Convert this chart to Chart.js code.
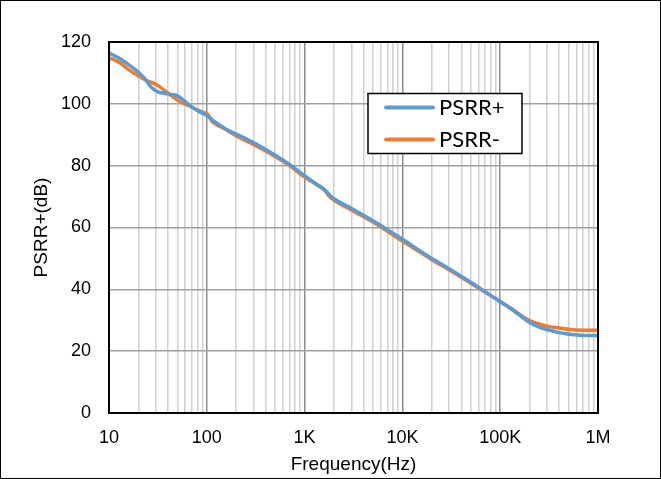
<!DOCTYPE html>
<html>
<head>
<meta charset="utf-8">
<script src="https://cdn.jsdelivr.net/npm/chart.js@4.4.1/dist/chart.umd.min.js"></script>
<style>
html,body{margin:0;padding:0;background:#fff;}
canvas{display:block;}
</style>
</head>
<body>
<canvas id="c" width="661" height="479"></canvas>
<script>
// ---- data ----
const seriesNames = ['PSRR+', 'PSRR-'];
const seriesColors = ['#5B9BD5', '#ED7D31'];

const psrrPlusFreq = [10,13,16,20,23,26,30,35,42,50,60,70,85,100,120,150,200,300,500,700,1000,1300,1600,1800,2000,3000,5000,10000,20000,30000,50000,100000,130000,160000,200000,250000,300000,400000,500000,700000,1000000];
const psrrPlusDb   = [116.5,114.6,112.6,110.2,108.3,106,104.2,103.5,103.1,102.6,100.8,99,97.4,96.2,94.2,92.2,90.2,87.5,83.4,80.4,76.8,74.2,72.3,70.5,69.3,66.2,62.2,56.2,50,46.7,42.3,36.0,33.6,31.5,29.3,27.8,27.0,26.0,25.5,25.1,25.1];

const psrrMinusFreq = [10,13,16,20,24,28,32,40,50,60,75,90,103,112,125,150,200,300,500,700,1000,1300,1600,1800,2000,3000,5000,10000,20000,30000,50000,100000,130000,160000,200000,250000,300000,400000,500000,700000,1000000];
const psrrMinusDb   = [115,113.2,111,109,107.6,106.8,105.8,103.5,101.2,99.9,98.5,97.3,96.6,94.5,93.3,92,89.6,86.9,83,80,76.3,74,72,70,68.8,65.7,61.8,55.6,49.6,46.3,42,36.1,33.8,31.8,29.9,28.8,28.1,27.5,27.1,26.8,26.8];

const xTickValues = [10,100,1000,10000,100000,1000000];
const xTickLabels = ['10','100','1K','10K','100K','1M'];
const yTickValues = [0,20,40,60,80,100,120];
const xTitle = 'Frequency(Hz)';
const yTitle = 'PSRR+(dB)';

function toPoints(xs, ys){ return xs.map((x,i)=>({x:x, y:ys[i]})); }

const tickFont = {family:'"Liberation Sans", Arial, sans-serif', size:18};
const titleFont = {family:'"Liberation Sans", Arial, sans-serif', size:19};

const frame = {
  id:'frame',
  afterDatasetsDraw(chart){
    const {ctx, chartArea:a} = chart;
    ctx.save();
    ctx.strokeStyle = '#000';
    ctx.lineWidth = 2;
    ctx.strokeRect(a.left, a.top, a.right - a.left, a.bottom - a.top);
    ctx.restore();
  },
  afterDraw(chart){
    const ctx = chart.ctx;
    ctx.save();
    // outer border
    ctx.strokeStyle = '#000';
    ctx.lineWidth = 1;
    ctx.strokeRect(0.5, 0.5, chart.width - 1, chart.height - 1);
    // legend
    const bx = 368, by = 93.5, bw = 154, bh = 60;
    ctx.fillStyle = '#fff';
    ctx.fillRect(bx, by, bw, bh);
    ctx.lineWidth = 1.5;
    ctx.strokeStyle = '#000';
    ctx.strokeRect(bx, by, bw, bh);
    ctx.font = '22px Lato, "Liberation Sans", sans-serif';
    ctx.textBaseline = 'alphabetic';
    ctx.textAlign = 'left';
    chart.data.datasets.forEach((ds, i) => {
      const ly = 107.5 + i * 32;
      ctx.strokeStyle = ds.borderColor;
      ctx.lineWidth = 4;
      ctx.lineCap = 'round';
      ctx.beginPath();
      ctx.moveTo(386, ly);
      ctx.lineTo(433, ly);
      ctx.stroke();
      ctx.fillStyle = '#000';
      ctx.fillText(ds.label, 439, ly + 7.8);
    });
    ctx.restore();
  }
};

const chart = new Chart(document.getElementById('c'), {
  type: 'line',
  data: {
    datasets: [
      {label: seriesNames[0], data: toPoints(psrrPlusFreq, psrrPlusDb), borderColor: seriesColors[0], backgroundColor: seriesColors[0], borderWidth: 3.5, pointRadius: 0, cubicInterpolationMode: 'monotone', fill:false},
      {label: seriesNames[1], data: toPoints(psrrMinusFreq, psrrMinusDb), borderColor: seriesColors[1], backgroundColor: seriesColors[1], borderWidth: 3.5, pointRadius: 0, cubicInterpolationMode: 'monotone', fill:false}
    ]
  },
  options: {
    responsive: false,
    devicePixelRatio: 1,
    animation: false,
    events: [],
    layout: {padding: {left: 0, top: 42, right: 63, bottom: 0}},
    plugins: {legend: {display: false}, tooltip: {enabled: false}},
    scales: {
      x: {
        type: 'logarithmic',
        min: 10, max: 1000000,
        afterFit(s){ s.height = 66; },
        afterBuildTicks(s){
          const t = [];
          for (let d = 0; d < xTickValues.length; d++) {
            const base = xTickValues[d];
            t.push({value: base, major: true});
            if (d < xTickValues.length - 1) for (let k = 2; k <= 9; k++) t.push({value: base * k, major: false});
          }
          s.ticks = t;
        },
        ticks: {
          autoSkip: false, maxRotation: 0, minRotation: 0, padding: 14,
          color: '#000', font: tickFont,
          callback(v){ const i = xTickValues.indexOf(v); return i >= 0 ? xTickLabels[i] : ''; }
        },
        grid: {
          drawTicks: false,
          lineWidth: 1.5,
          color(ctx){ return (ctx.tick && xTickValues.indexOf(ctx.tick.value) >= 0) ? '#8c8c8c' : '#d0d0d0'; }
        },
        border: {display: false},
        title: {display: true, text: xTitle, color: '#000', font: titleFont, padding: {top: 0, bottom: 3}}
      },
      y: {
        type: 'linear',
        min: 0, max: 120,
        afterFit(s){ s.width = 109; },
        afterBuildTicks(s){ s.ticks = yTickValues.map(v => ({value: v})); },
        ticks: {padding: 18, color: '#000', font: tickFont},
        grid: {drawTicks: false, lineWidth: 1.5, color: '#a0a0a0'},
        border: {display: false},
        title: {display: true, text: yTitle, color: '#000', font: titleFont, padding: {top: 30.6, bottom: 0}}
      }
    }
  },
  plugins: [frame]
});
</script>
</body>
</html>
